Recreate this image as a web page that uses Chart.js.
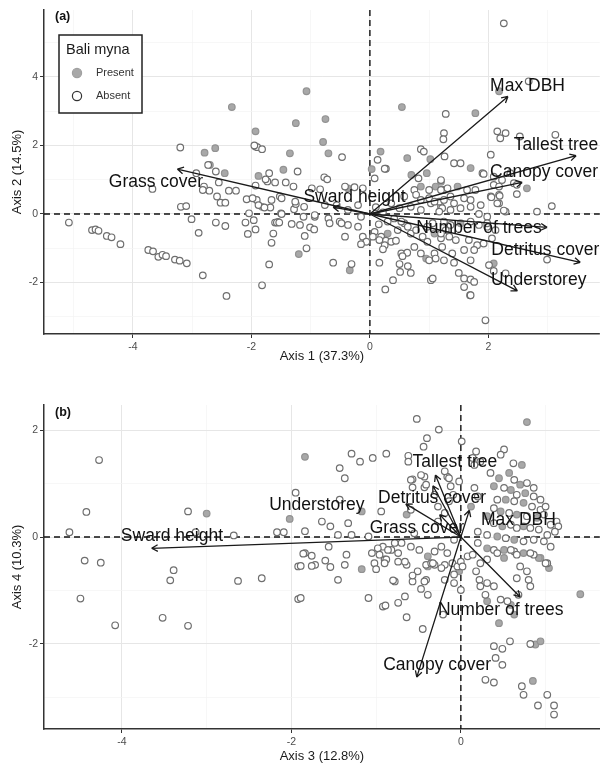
<!DOCTYPE html>
<html>
<head>
<meta charset="utf-8">
<script src="https://cdn.jsdelivr.net/npm/chart.js@4.4.1/dist/chart.umd.min.js"></script>
<style>
  html, body { margin: 0; padding: 0; background: #fff; }
  canvas { display: block; }
</style>
</head>
<body>
<canvas id="panelA" width="605" height="372"></canvas>
<canvas id="panelB" width="605" height="393"></canvas>
<script>
// ---- panel (a): Axis 1 vs Axis 2 ----
const presentA = [[-2.79,1.79],[-2.61,1.92],[-2.33,3.12],[-1.93,2.41],[-1.46,1.29],[-1.35,1.77],[-1.25,2.65],[-1.07,3.58],
  [0.54,3.12],[-0.75,2.77],[-0.79,2.10],[-0.70,1.77],[0.18,1.82],[0.63,1.63],[1.02,1.60],[0.03,1.31],[0.70,1.14],
  [0.96,1.19],[1.20,0.94],[-1.20,-1.17],[-0.34,-1.64],[2.18,3.58],[1.78,2.94],[1.70,1.34],[2.65,0.75],[1.48,0.80],
  [-2.70,1.43],[-2.45,1.19],[-1.88,1.11],[0.86,0.80],[1.11,0.80],[0.30,-0.57],[1.09,-0.57],[-1.82,0.21],[-0.37,0.75],
  [1.53,-0.27],[2.09,-1.44],[0.95,-1.30]];

const absentA = [[-5.08,-0.25],[-4.69,-0.47],[-4.63,-0.45],[-4.58,-0.49],[-4.44,-0.64],[-4.36,-0.68],[-4.21,-0.88],
  [-3.74,-1.05],[-3.66,-1.09],[-3.57,-1.25],[-3.50,-1.19],[-3.44,-1.23],[-3.29,-1.33],[-3.21,-1.36],[-3.09,-1.44],
  [-2.82,-1.79],[-2.89,-0.55],[-2.42,-2.39],[-3.01,-0.15],[-3.19,0.21],[-3.10,0.23],[-3.20,1.94],[-3.67,0.73],
  [-1.82,-2.08],[-1.70,-1.47],[-1.66,-0.84],[-1.63,-0.57],[-2.60,-0.25],[-2.44,-0.35],[-2.10,-0.25],[-2.04,0.02],
  [-1.96,-0.18],[-1.93,-0.45],[-2.06,-0.58],[-2.08,0.43],[-1.91,0.41],[-1.68,0.19],[-1.60,-0.25],[-1.55,-0.23],
  [-1.50,0.02],[-1.32,-0.29],[-1.28,0.14],[-1.25,0.29],[-1.29,0.80],[-1.42,0.92],[-1.60,0.92],[-1.70,1.19],
  [-1.73,0.95],[-1.93,0.83],[-2.26,0.68],[-2.38,0.68],[-2.55,0.92],[-2.58,0.51],[-2.52,0.33],[-2.44,0.33],
  [-2.71,0.68],[-2.80,0.80],[-2.82,0.70],[-2.73,1.43],[-2.60,1.24],[-1.93,1.97],[-1.90,1.95],[-1.82,1.89],
  [-1.95,2.00],[-2.93,1.19],
  [0.13,1.58],[0.27,1.32],[0.25,1.32],[0.86,1.89],[0.91,1.82],[1.25,2.36],[1.24,2.18],[0.08,1.04],[0.82,1.04],
  [-1.22,1.24],[-1.76,1.01],[-0.77,1.07],[-0.72,1.01],[-0.98,0.75],[-0.84,0.72],[-0.26,0.78],[-0.12,0.75],
  [-1.98,0.46],[-1.66,0.41],[-1.52,0.51],[-1.88,0.26],[-1.78,0.19],[-1.26,0.36],[-1.11,0.21],[-0.76,0.26],
  [-0.56,0.26],[-1.49,0.00],[-1.12,-0.08],[-0.93,-0.08],[-0.70,-0.13],[-1.57,-0.25],[-1.53,-0.25],[-1.18,-0.32],
  [-1.01,-0.39],[-0.94,-0.45],[-0.68,-0.27],[-0.51,-0.22],[-0.37,-0.32],[-0.20,-0.37],[-1.10,-0.64],[-1.07,-1.00],
  [-0.42,-0.66],[-0.12,-0.66],[-0.06,-0.81],[-0.15,-0.88],[0.08,-0.52],[0.05,-0.66],[0.19,-0.66],[0.27,-0.78],
  [0.36,-0.81],[0.44,-0.78],[0.25,-0.91],[0.22,-1.03],[0.53,-1.15],[0.63,-1.13],[0.55,-1.23],[-0.62,-1.42],
  [-0.31,-1.46],[0.16,-1.42],[0.50,-1.46],[0.64,-1.52],[0.51,-1.69],[0.69,-1.72],[0.39,-1.93],[0.26,-2.20],
  [1.03,-1.93],[1.06,-1.88],[0.86,-1.15],[1.00,-1.35],[1.09,-1.15],[1.11,-1.30],[0.16,-0.76],[0.47,-0.47],
  [0.58,-0.27],[0.69,-0.57],[0.78,-0.47],[0.89,-0.66],[0.97,-0.81],[1.20,-0.71],[1.28,-0.47],[0.75,0.70],
  [1.00,0.70],[1.25,0.70],[0.86,0.41],[1.03,0.31],[1.20,0.21],[-0.47,1.66],
  [2.26,5.56],[2.68,3.87],[1.28,2.92],[2.15,2.41],[2.29,2.36],[3.13,2.31],[2.04,1.73],[1.42,1.48],[1.53,1.48],
  [1.90,1.19],[2.09,1.09],[2.23,0.99],[2.37,1.19],[2.43,0.90],[2.04,0.51],[2.18,0.56],[2.18,0.31],[2.29,0.07],
  [2.48,0.58],[2.82,0.07],[3.07,0.23],[1.98,-0.37],[2.12,-0.47],[2.01,-1.49],[2.09,-1.66],[1.59,-1.88],
  [1.70,-1.91],[1.69,-2.37],[1.95,-3.10],[2.99,-1.33],
  [2.20,2.21],[2.53,2.26],[1.26,1.68],[1.92,1.17],[2.09,0.85],[2.18,0.80],[2.48,0.85],[2.05,0.49],[2.19,0.53],
  [2.15,0.31],[2.26,0.10],[1.20,0.99],[1.20,0.70],[1.31,0.75],[1.64,0.70],[1.78,0.70],[1.17,0.36],[1.25,0.41],
  [1.36,0.51],[1.42,0.31],[1.59,0.46],[1.70,0.41],[1.87,0.26],[1.22,0.17],[1.36,0.12],[1.53,0.17],[1.70,0.21],
  [1.84,0.00],[1.98,-0.08],[1.25,-0.22],[1.36,-0.32],[1.70,-0.22],[1.84,-0.32],[1.98,-0.27],[1.20,-0.57],
  [1.34,-0.66],[1.45,-0.76],[1.67,-0.76],[1.81,-0.91],[1.92,-0.86],[2.06,-0.71],[1.22,-0.96],[1.39,-1.15],
  [1.59,-1.05],[1.76,-1.05],[1.70,-1.35],[1.25,-1.35],[1.42,-1.42],[1.50,-1.72],[1.76,-1.98],[1.59,-2.13],
  [1.70,-2.37],[2.29,-1.73],
  [0.30,-0.22],[0.41,-0.13],[0.53,-0.22],[0.64,-0.37],[0.97,-0.37],[0.75,-0.96],[1.00,0.46],[1.09,0.36],
  [1.17,0.07],[0.86,0.12],[0.69,0.21],[0.50,0.17],[0.36,0.31],[1.06,-0.27],[0.58,0.51],[0.78,0.56],
  [-0.42,0.80],[-0.20,0.26],[-0.37,0.12],[-0.15,-0.08],[-0.48,-0.27],[-0.93,-0.03],[-1.49,0.46],
  [0.10,0.20],[0.22,0.05],[0.15,-0.30]];

const varsA   = ['Max DBH', 'Tallest tree', 'Canopy cover', 'Number of trees', 'Detritus cover', 'Understorey', 'Sward height', 'Grass cover'];
const arrowXA = [2.33, 3.48, 2.57, 2.99, 3.55, 2.49, -0.62, -3.25];
const arrowYA = [3.43, 1.70, 0.92, -0.39, -1.41, -2.24, 0.20, 1.31];
const labelXA = [2.66, 3.14, 2.94, 1.84, 2.96, 2.85, -0.26, -3.61];
const labelYA = [3.74, 2.02, 1.23, -0.41, -1.05, -1.93, 0.50, 0.92];

// ---- panel (b): Axis 3 vs Axis 4 ----
const presentB = [[-3.00,0.44],[-2.02,0.34],[0.78,2.15],[-1.84,1.50],[0.72,1.35],[0.45,1.10],[0.57,1.20],[0.70,0.98],
  [0.39,0.95],[0.59,0.88],[0.76,0.82],[0.53,0.70],[0.74,0.64],[0.47,0.48],[0.66,0.42],[0.90,0.36],[0.31,0.39],
  [0.49,0.20],[0.74,0.20],[0.43,0.01],[0.63,-0.05],[0.31,-0.21],[0.51,-0.24],[0.74,-0.30],[0.94,-0.39],[-0.39,-0.36],
  [-0.64,0.42],[0.12,0.57],[-0.39,-0.55],[-1.17,0.48],[-1.17,-0.60],[-0.02,-0.64],[0.51,-0.39],[0.92,-0.39],
  [1.04,-0.58],[0.31,-1.20],[0.59,-1.27],[0.63,-1.45],[0.45,-1.61],[0.88,-2.01],[0.94,-1.95],[0.85,-2.69],[1.41,-1.07]];

const absentB = [[-4.27,1.44],[-4.42,0.47],[-4.62,0.09],[-4.44,-0.44],[-4.25,-0.48],[-4.49,-1.15],[-4.08,-1.65],
  [-3.22,0.48],[-3.13,0.09],[-3.39,-0.62],[-3.43,-0.81],[-3.52,-1.51],[-3.22,-1.66],[-2.68,0.03],[-2.63,-0.82],
  [-2.35,-0.77],[-2.17,0.09],[-2.09,0.09],[-1.95,0.83],[-1.92,-0.55],[-1.92,-1.16],
  [-0.52,2.21],[-0.26,2.01],[0.01,1.79],[-0.40,1.85],[-0.44,1.69],[0.18,1.60],[0.14,1.48],[0.51,1.64],[0.47,1.54],
  [-0.62,1.52],[-0.62,1.41],[-1.29,1.56],[-1.19,1.41],[-1.04,1.48],[-0.88,1.56],[-1.43,1.29],[-1.37,1.10],
  [0.62,1.38],[-0.57,1.08],[-0.43,1.13],[-0.57,0.93],[-0.43,0.93],[-0.31,0.79],[-0.16,1.13],[-0.12,0.95],
  [-0.09,0.79],[-0.14,0.67],[-0.27,0.57],
  [0.23,1.41],[0.16,1.35],[0.35,1.20],[0.63,1.07],[0.78,1.01],[0.86,0.92],[0.51,0.92],[0.66,0.79],[0.86,0.76],
  [0.94,0.70],[0.43,0.70],[0.63,0.67],[0.84,0.57],[0.94,0.51],[1.00,0.57],[0.39,0.54],[0.57,0.45],[0.78,0.39],
  [0.98,0.42],[1.13,0.29],[1.15,0.20],[1.06,0.23],[0.39,0.26],[0.59,0.23],[0.66,0.17],[0.82,0.17],[0.92,0.14],
  [1.02,0.04],[1.11,0.10],[0.20,0.10],[0.31,0.04],[0.53,-0.02],[0.74,-0.08],[0.86,-0.05],[0.98,-0.08],
  [1.06,-0.18],[0.20,-0.11],[0.39,-0.24],[0.63,-0.27],[0.86,-0.33],[1.02,-0.49],
  [-0.92,-0.18],[-0.82,-0.24],[-0.70,-0.11],[-0.59,-0.18],[-0.49,-0.24],[-0.31,-0.27],[-0.23,-0.18],[-0.16,-0.30],
  [-0.08,-0.05],[-0.90,-0.42],[-0.74,-0.46],[-0.64,-0.52],[-0.41,-0.52],[-0.35,-0.49],[-0.19,-0.52],[-0.10,-0.49],
  [-0.04,-0.55],[-0.59,0.51],[-0.19,0.45],[-0.27,0.29],[-0.55,0.07],[-0.19,1.23],[-0.14,1.10],[-0.02,1.04],
  [-0.59,1.07],[-0.47,1.16],[-0.41,0.98],[0.16,0.92],[0.20,0.76],
  [-1.84,-0.30],[-1.72,-0.52],[-1.56,-0.18],[-1.35,-0.33],[-1.37,-0.52],[-1.45,-0.80],[-1.09,-1.14],[-0.92,-1.30],
  [-1.02,-0.49],[-0.78,-0.11],[-0.66,-0.46],[-0.88,-0.42],[-0.98,-0.21],[-0.74,-0.30],[-0.78,-0.83],[-0.64,-1.50],
  [-0.66,-1.11],[-0.57,-0.83],[-0.45,-1.72],[-0.51,-0.64],[-0.41,-0.80],[-0.31,-0.52],[-0.23,-0.58],[-0.19,-0.80],
  [-0.08,-0.70],[0.00,-0.46],[-1.89,-1.14],[-1.43,0.70],[-1.64,0.29],[-1.54,0.20],[-1.33,0.26],[-0.94,0.48],
  [-1.45,0.04],[-1.29,0.04],[-1.84,0.11],[-1.09,0.01],
  [-1.86,-0.31],[-1.76,-0.35],[-1.89,-0.54],[-1.76,-0.54],[-1.60,-0.44],[-1.54,-0.56],[-1.05,-0.30],[-0.96,-0.33],
  [-0.86,-0.24],[-0.90,-0.49],[-1.00,-0.60],[-0.80,-0.81],[-0.57,-0.72],[-0.33,-0.49],[-0.43,-0.83],[-0.47,-0.97],
  [-0.39,-1.08],[-0.74,-1.23],[-0.89,-1.28],[-0.21,-1.45],[-0.08,-0.86],[0.00,-0.99],
  [0.08,-0.36],[0.14,-0.33],[0.23,-0.49],[0.31,-0.42],[0.43,-0.30],[0.59,-0.24],[0.66,-0.33],[0.82,-0.30],
  [1.00,-0.49],[0.70,-0.55],[0.78,-0.64],[0.66,-0.77],[0.80,-0.80],[0.82,-0.92],[0.22,-0.80],[0.23,-0.92],
  [0.31,-0.86],[0.39,-0.92],[0.29,-1.08],[0.47,-1.17],[0.55,-1.20],[0.68,-1.08],[0.39,-2.04],[0.49,-2.09],
  [0.58,-1.95],[0.82,-2.00],[0.41,-2.26],[0.49,-2.39],[0.29,-2.67],[0.39,-2.72],[0.72,-2.79],[0.74,-2.95],
  [1.02,-2.95],[0.91,-3.15],[1.10,-3.15],[1.10,-3.32],[0.02,-0.55],[0.18,-0.64]];

const varsB   = ['Sward height', 'Understorey', 'Tallest tree', 'Detritus cover', 'Grass cover', 'Max DBH', 'Number of trees', 'Canopy cover'];
const arrowXB = [-3.65, -0.65, -0.30, -0.33, -0.25, 0.10, 0.70, -0.52];
const arrowYB = [-0.21, 0.62, 1.16, 0.96, 0.42, 0.50, -1.12, -2.62];
const labelXB = [-3.41, -1.70, -0.07, -0.34, -0.52, 0.68, 0.47, -0.28];
const labelYB = [0.01, 0.59, 1.41, 0.73, 0.17, 0.32, -1.36, -2.40];

const FONT = '"Liberation Sans", Arial, Helvetica, sans-serif';

// dashed zero lines, loading arrows, labels, panel tag and legend
const biplot = {
  id: 'biplot',
  beforeDatasetsDraw(chart) {
    const { ctx, chartArea: a, scales: { x, y } } = chart;
    const x0 = x.getPixelForValue(0), y0 = y.getPixelForValue(0);
    ctx.save();
    ctx.strokeStyle = '#111';
    ctx.lineWidth = 1.4;
    ctx.setLineDash([6, 4]);
    ctx.beginPath();
    ctx.moveTo(a.left, y0); ctx.lineTo(a.right, y0);
    ctx.moveTo(x0, a.top); ctx.lineTo(x0, a.bottom);
    ctx.stroke();
    ctx.restore();
  },
  afterDatasetsDraw(chart, args, opts) {
    const { ctx, chartArea: a, scales: { x, y } } = chart;
    const x0 = x.getPixelForValue(0), y0 = y.getPixelForValue(0);
    ctx.save();
    ctx.strokeStyle = '#1a1a1a';
    ctx.lineWidth = 1.3;
    opts.ax.forEach((vx, i) => {
      const px = x.getPixelForValue(vx), py = y.getPixelForValue(opts.ay[i]);
      const ang = Math.atan2(py - y0, px - x0);
      ctx.beginPath();
      ctx.moveTo(x0, y0); ctx.lineTo(px, py);
      [-0.5, 0.5].forEach(d => {
        ctx.moveTo(px, py);
        ctx.lineTo(px - 7 * Math.cos(ang + d), py - 7 * Math.sin(ang + d));
      });
      ctx.stroke();
    });

    ctx.fillStyle = '#111';
    ctx.font = '17.5px ' + FONT;
    ctx.textAlign = 'center';
    ctx.textBaseline = 'middle';
    opts.names.forEach((n, i) => {
      ctx.fillText(n, x.getPixelForValue(opts.lx[i]), y.getPixelForValue(opts.ly[i]));
    });

    ctx.font = 'bold 12.5px ' + FONT;
    ctx.textAlign = 'left';
    ctx.fillText(opts.tag, a.left + 11, a.top + opts.tagDy);

    if (opts.legend) {
      const lx = a.left + 15, ly = a.top + 25;
      ctx.fillStyle = '#fff';
      ctx.fillRect(lx, ly, 83, 78);
      ctx.strokeStyle = '#222';
      ctx.lineWidth = 1.5;
      ctx.strokeRect(lx, ly, 83, 78);
      ctx.fillStyle = '#1a1a1a';
      ctx.font = '14.5px ' + FONT;
      ctx.fillText('Bali myna', lx + 7, ly + 15);
      ctx.font = '11px ' + FONT;
      chart.data.datasets.slice().reverse().forEach((ds, i) => {
        const cy = ly + 38 + i * 23;
        ctx.beginPath();
        ctx.arc(lx + 18, cy, 4.6, 0, Math.PI * 2);
        ctx.fillStyle = ds.label === 'Present' ? '#a8a8a8' : '#fff';
        ctx.fill();
        ctx.lineWidth = 1.2;
        ctx.strokeStyle = ds.label === 'Present' ? '#a0a0a0' : '#333';
        ctx.stroke();
        ctx.fillStyle = '#333';
        ctx.fillText(ds.label, lx + 37, cy);
      });
    }
    ctx.restore();
  }
};

function axis(min, max, title, horizontal, size, titlePad) {
  return {
    type: 'linear', min: min, max: max,
    ticks: {
      stepSize: 1, includeBounds: false, autoSkip: false, maxRotation: 0,
      color: '#4d4d4d', font: { family: FONT, size: 10.5 }, padding: horizontal ? 3 : 2,
      callback: v => (Math.abs(v % 2) === 0 ? String(v) : '')
    },
    grid: {
      color: c => (c.tick && Math.abs(c.tick.value % 2) === 0 ? '#e6e6e6' : '#f3f3f3'),
      lineWidth: c => (c.tick && Math.abs(c.tick.value % 2) === 0 ? 1 : 0.7),
      tickColor: c => (c.tick && Math.abs(c.tick.value % 2) === 0 ? '#333' : 'rgba(0,0,0,0)'),
      tickLength: 4, tickWidth: 1
    },
    border: { display: true, color: '#333', width: 1.5 },
    title: { display: true, text: title, color: '#1a1a1a', font: { family: FONT, size: 13 }, padding: titlePad },
    afterFit(scale) {
      if (horizontal) scale.height = size; else scale.width = size;
    }
  };
}

function toPts(list) { return list.map(p => ({ x: p[0], y: p[1] })); }

function makeChart(id, cfg) {
  return new Chart(document.getElementById(id), {
    type: 'scatter',
    data: {
      datasets: [
        { label: 'Absent', data: toPts(cfg.absent), pointRadius: 3.3, pointBorderWidth: 1.2,
          pointBackgroundColor: '#fff', pointBorderColor: '#6f6f6f' },
        { label: 'Present', data: toPts(cfg.present), pointRadius: 3.3, pointBorderWidth: 1.2,
          pointBackgroundColor: '#a8a8a8', pointBorderColor: '#939393' }
      ]
    },
    options: {
      responsive: false, animation: false, events: [],
      layout: { padding: { top: cfg.top, right: 2, left: 0, bottom: 0 } },
      scales: {
        x: axis(cfg.xr[0], cfg.xr[1], cfg.xt, true, cfg.xh, { top: 0, bottom: cfg.xpad }),
        y: axis(cfg.yr[0], cfg.yr[1], cfg.yt, false, 44, { top: 10, bottom: 0 })
      },
      plugins: {
        legend: { display: false },
        tooltip: { enabled: false },
        biplot: cfg.biplot
      }
    },
    plugins: [biplot]
  });
}

makeChart('panelA', {
  present: presentA, absent: absentA,
  xr: [-5.5, 3.88], yr: [-3.5, 5.95],
  xt: 'Axis 1 (37.3%)', yt: 'Axis 2 (14.5%)',
  top: 10, xh: 38, xpad: 8,
  biplot: { names: varsA, ax: arrowXA, ay: arrowYA, lx: labelXA, ly: labelYA, tag: '(a)', tagDy: 7, legend: true }
});

makeChart('panelB', {
  present: presentB, absent: absentB,
  xr: [-4.92, 1.64], yr: [-3.59, 2.47],
  xt: 'Axis 3 (12.8%)', yt: 'Axis 4 (10.3%)',
  top: 33, xh: 36, xpad: 1,
  biplot: { names: varsB, ax: arrowXB, ay: arrowYB, lx: labelXB, ly: labelYB, tag: '(b)', tagDy: 8, legend: false }
});
</script>
</body>
</html>
